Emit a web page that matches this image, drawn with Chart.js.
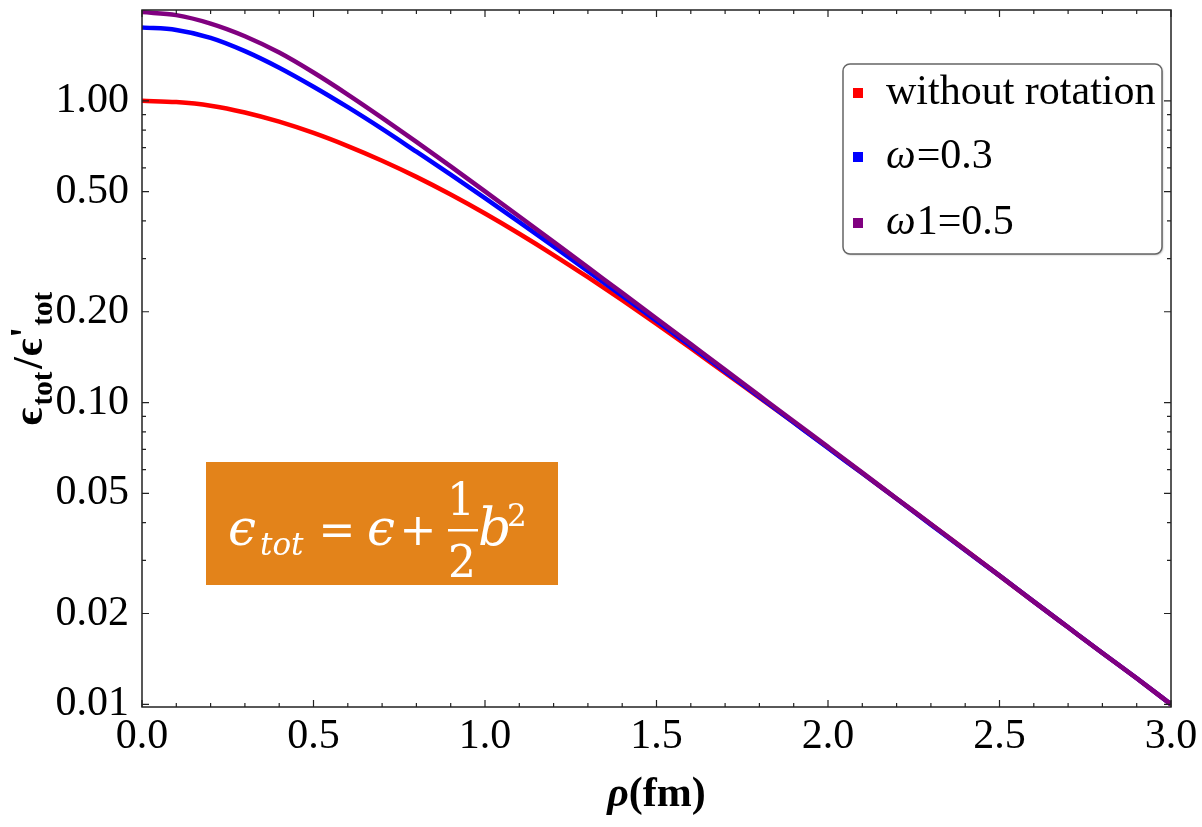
<!DOCTYPE html>
<html>
<head>
<meta charset="utf-8">
<script src="https://cdn.jsdelivr.net/npm/chart.js@4.4.1/dist/chart.umd.min.js"></script>
<style>
html,body{margin:0;padding:0;background:#fff;}
#wrap{position:relative;width:1202px;height:827px;}
</style>
</head>
<body>
<div id="wrap"><canvas id="c" width="1202" height="827"></canvas></div>
<script>
// ---- data ----
const rho = [0.0,0.1,0.2,0.3,0.4,0.5,0.6,0.7,0.8,0.9,1.0,1.1,1.2,1.3,1.4,1.5,1.6,1.7,1.8,1.9,2.0,2.1,2.2,2.3,2.4,2.5,2.6,2.7,2.8,2.9,3.0];
const withoutRotation = [1.000,0.9908,0.9638,0.9152,0.8531,0.7825,0.7079,0.6331,0.5598,0.4892,0.4231,0.3626,0.3083,0.2603,0.2185,0.1824,0.1515,0.1254,0.1039,0.0859,0.0709,0.0583,0.0480,0.0395,0.0325,0.0267,0.0219,0.0180,0.0148,0.0122,0.0100];
const omega03 = [1.750,1.718,1.618,1.462,1.288,1.114,0.9528,0.8072,0.6785,0.5697,0.4763,0.3966,0.3293,0.2728,0.2256,0.1863,0.1537,0.1267,0.1044,0.0859,0.0707,0.0583,0.0480,0.0394,0.0324,0.0267,0.0219,0.0180,0.0148,0.0122,0.0100];
const omega05 = [1.968,1.923,1.803,1.637,1.445,1.241,1.049,0.8783,0.7315,0.6065,0.5014,0.4137,0.3410,0.2806,0.2310,0.1900,0.1562,0.1284,0.1055,0.0867,0.0713,0.0586,0.0481,0.0396,0.0325,0.0267,0.0219,0.0180,0.0148,0.0122,0.0100];
const seriesLabels = ['without rotation','ω=0.3','ω1=0.5'];
const seriesColors = ['#ff0000','#0000ff','#800080'];
const xTickValues = [0,0.5,1,1.5,2,2.5,3];
const xTickLabels = ['0.0','0.5','1.0','1.5','2.0','2.5','3.0'];
const xMinorTicks = [0.1,0.2,0.3,0.4,0.6,0.7,0.8,0.9,1.1,1.2,1.3,1.4,1.6,1.7,1.8,1.9,2.1,2.2,2.3,2.4,2.6,2.7,2.8,2.9];
const yTickValues = [0.01,0.02,0.05,0.1,0.2,0.5,1];
const yTickLabels = ['0.01','0.02','0.05','0.10','0.20','0.50','1.00'];
const yMinorTicks = [0.03,0.04,0.06,0.07,0.08,0.09,0.3,0.4,0.6,0.7,0.8,0.9];

const series = [withoutRotation, omega03, omega05];
const SERIF = "'Liberation Serif','DejaVu Serif',serif";

const decorPlugin = {
  id:'decor',
  afterDatasetsDraw(chart){
    const ctx = chart.ctx, a = chart.chartArea, xs = chart.scales.x, ys = chart.scales.y;
    ctx.save();
    ctx.strokeStyle = '#222';
    ctx.lineWidth = 1.5;
    ctx.strokeRect(a.left, a.top, a.right - a.left, a.bottom - a.top);
    ctx.lineWidth = 1.2;
    ctx.beginPath();
    const xt = (v,len)=>{const p = xs.getPixelForValue(v);
      ctx.moveTo(p,a.bottom); ctx.lineTo(p,a.bottom-len);
      ctx.moveTo(p,a.top); ctx.lineTo(p,a.top+len);};
    const yt = (v,len)=>{const p = ys.getPixelForValue(v);
      ctx.moveTo(a.left,p); ctx.lineTo(a.left+len,p);
      ctx.moveTo(a.right,p); ctx.lineTo(a.right-len,p);};
    xTickValues.forEach(v=>xt(v,7));
    xMinorTicks.forEach(v=>xt(v,4));
    yTickValues.forEach(v=>yt(v,7));
    yMinorTicks.forEach(v=>yt(v,4));
    ctx.stroke();
    ctx.restore();
  },
  afterDraw(chart){
    const ctx = chart.ctx, a = chart.chartArea;
    // ---- legend ----
    ctx.save();
    const lx=843, ly=64, lw=319, lh=190, r=7;
    ctx.shadowColor='rgba(0,0,0,0.3)'; ctx.shadowBlur=2; ctx.shadowOffsetX=1; ctx.shadowOffsetY=1;
    ctx.beginPath(); ctx.roundRect(lx,ly,lw,lh,r); ctx.fillStyle='#fff'; ctx.fill();
    ctx.shadowColor='transparent';
    ctx.strokeStyle='#666'; ctx.lineWidth=1.5; ctx.stroke();
    const rows=[93,157,223];
    chart.data.datasets.forEach((ds,i)=>{
      const y=rows[i];
      ctx.fillStyle=ds.borderColor;
      ctx.fillRect(853,y-5,10,10);
      ctx.fillStyle='#000';
      ctx.textBaseline='middle';
      let x=886;
      let label=ds.label;
      if(label.startsWith('ω')){
        ctx.font="italic 42px "+SERIF;
        ctx.fillText('ω',x,y);
        x+=ctx.measureText('ω').width+1;
        label=label.slice(1);
      }
      ctx.font="42px "+SERIF;
      ctx.fillText(label,x,y);
    });
    ctx.restore();

    // ---- formula box ----
    ctx.save();
    ctx.fillStyle='#E3831A';
    ctx.fillRect(206,462,352,123);
    ctx.fillStyle='#fff';
    ctx.textBaseline='alphabetic';
    const MF="'DejaVu Serif',serif";
    ctx.font="italic 50px "+MF; ctx.fillText('ϵ',228,545);
    ctx.font="italic 31px "+MF; ctx.fillText('tot',260,555);
    ctx.font="44px "+MF; ctx.textAlign='center'; ctx.fillText('=',337,545);
    ctx.font="italic 50px "+MF; ctx.textAlign='left'; ctx.fillText('ϵ',367,545);
    ctx.font="44px "+MF; ctx.textAlign='center'; ctx.fillText('+',418,545);
    ctx.font="44px "+MF; ctx.fillText('1',461,515);
    ctx.fillRect(448,529,30,2.5);
    ctx.fillText('2',462,577);
    ctx.textAlign='left';
    ctx.font="italic 52px "+MF; ctx.fillText('b',478,545);
    ctx.font="31px "+MF; ctx.fillText('2',507,526);
    ctx.restore();

    // ---- axis titles ----
    ctx.save();
    ctx.fillStyle='#000';
    ctx.textBaseline='alphabetic';
    // x title
    const xf1="bold italic 42px "+SERIF, xf2="bold 42px "+SERIF;
    ctx.font=xf1; const w1=ctx.measureText('ρ').width;
    ctx.font=xf2; const w2=ctx.measureText('(fm)').width;
    const cx=(a.left+a.right)/2;
    let sx=cx-(w1+w2)/2;
    ctx.font=xf1; ctx.fillText('ρ',sx,806);
    ctx.font=xf2; ctx.fillText('(fm)',sx+w1,806);
    // y title (rotated)
    const cy=(a.top+a.bottom)/2;
    const mainF="bold 42px "+SERIF, subF="bold 29px "+SERIF;
    const parts=[['ϵ',mainF,0,2],['tot',subF,10,3],['/',mainF,0,1],['ϵ',mainF,0,0],['\'',mainF,-3,1],['tot',subF,10,0]];
    let total=0; parts.forEach(p=>{ctx.font=p[1]; total+=ctx.measureText(p[0]).width+p[3];});
    ctx.translate(42,cy); ctx.rotate(-Math.PI/2);
    let u=-total/2;
    parts.forEach(p=>{ctx.font=p[1]; ctx.fillText(p[0],u,p[2]); u+=ctx.measureText(p[0]).width+p[3];});
    ctx.restore();
  }
};

new Chart(document.getElementById('c').getContext('2d'), {
  type:'line',
  data:{
    datasets: seriesLabels.map((lab,i)=>({
      label: lab,
      data: rho.map((r,j)=>({x:r, y:series[i][j]})),
      borderColor: seriesColors[i],
      backgroundColor: seriesColors[i],
      borderWidth: 4.5,
      pointRadius: 0,
      fill: false,
      order: seriesLabels.length - 1 - i,
      cubicInterpolationMode: 'monotone'
    }))
  },
  options:{
    responsive:false,
    animation:false,
    devicePixelRatio:1,
    layout:{padding:{left:0,right:31,top:10,bottom:0}},
    plugins:{legend:{display:false}, tooltip:{enabled:false}},
    scales:{
      x:{
        type:'linear', min:0, max:3,
        grid:{display:false}, border:{display:false},
        afterBuildTicks:(s)=>{ s.ticks = xTickValues.map(v=>({value:v})); },
        afterFit:(s)=>{ s.height = 120; s.paddingLeft = 0; s.paddingRight = 0; },
        ticks:{autoSkip:false, maxRotation:0, padding:-3, color:'#000',
          font:{family:SERIF, size:42},
          callback:(v)=>{ const i = xTickValues.indexOf(v); return i>=0 ? xTickLabels[i] : ''; }}
      },
      y:{
        type:'logarithmic', min:0.0098, max:2.0,
        grid:{display:false}, border:{display:false},
        afterBuildTicks:(s)=>{ s.ticks = yTickValues.map(v=>({value:v})); },
        afterFit:(s)=>{ s.width = 142; s.paddingTop = 0; s.paddingBottom = 0; },
        ticks:{autoSkip:false, padding:5, color:'#000',
          font:{family:SERIF, size:42},
          callback:(v)=>{ const i = yTickValues.indexOf(v); return i>=0 ? yTickLabels[i] : ''; }}
      }
    }
  },
  plugins:[decorPlugin]
});
</script>
</body>
</html>
